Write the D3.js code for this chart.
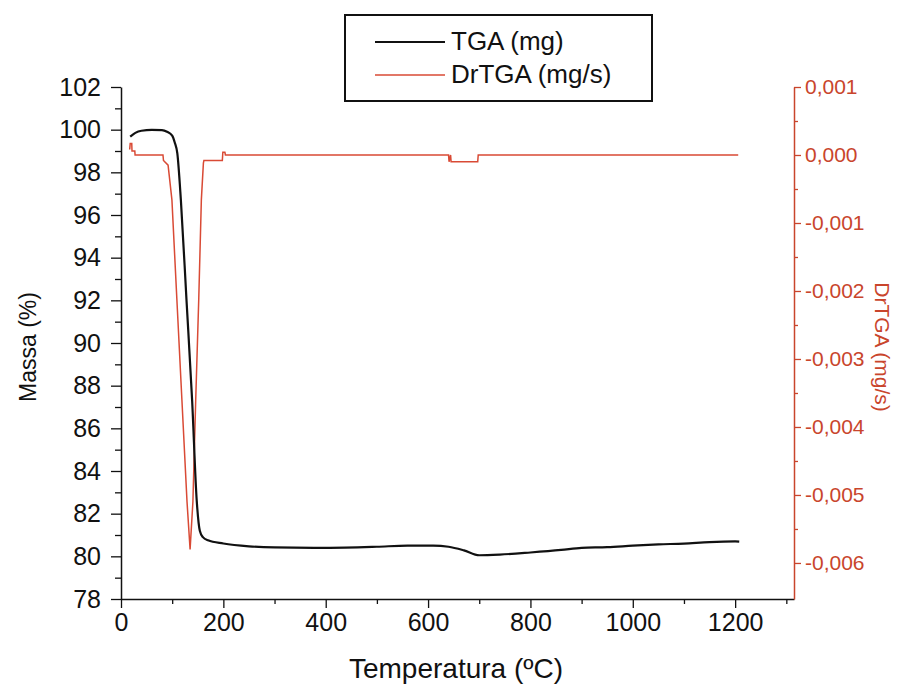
<!DOCTYPE html>
<html>
<head>
<meta charset="utf-8">
<script src="https://cdn.jsdelivr.net/npm/d3@7"></script>
<style>
  body { margin: 0; background: #fff; }
  svg text { font-family: "Liberation Sans", Arial, sans-serif; }
</style>
</head>
<body>
<div id="chart"></div>
<script>
// TGA curve: temperature (ºC) vs mass (%)
const tgaTemp = [18, 28, 40, 60, 80, 90, 100, 105, 110, 117, 128, 139, 148, 154, 160, 170, 200, 250, 300, 400, 500, 560, 610, 640, 670, 700, 740, 800, 860, 900, 950, 1000, 1050, 1100, 1150, 1200, 1208];
const tgaMass = [99.67, 99.85, 99.95, 99.99, 99.98, 99.9, 99.72, 99.4, 98.9, 96.7, 92.0, 87.3, 82.6, 81.2, 80.9, 80.75, 80.6, 80.47, 80.42, 80.4, 80.45, 80.5, 80.5, 80.45, 80.28, 80.05, 80.08, 80.18, 80.3, 80.4, 80.43, 80.5, 80.56, 80.6, 80.67, 80.7, 80.69];

// DrTGA curve: temperature (ºC) vs derivative (mg/s)
const dtgTemp = [17, 18, 21, 21.5, 27, 27.5, 82, 83, 92, 99.5, 109, 119, 129, 135, 140.5, 146, 152, 157, 161, 162, 198, 199, 203, 204, 640, 641, 644, 645, 697, 698, 1206];
const dtgValue = [0.00008, 0.00017, 0.00017, 0.00006, 0.00006, 0, 0, -0.00008, -0.00015, -0.00066, -0.0021, -0.0036, -0.0051, -0.0058, -0.0051, -0.0036, -0.0021, -0.00066, -0.00012, -0.00008, -0.00008, 0.00004, 0.00004, 0, 0, -0.0001, 0, -0.0001, -0.0001, 0, 0];

const xTicks = [0, 200, 400, 600, 800, 1000, 1200];
const xMinorTicks = [100, 300, 500, 700, 900, 1100, 1300];
const yLeftTicks = [78, 80, 82, 84, 86, 88, 90, 92, 94, 96, 98, 100, 102];
const yLeftMinor = [79, 81, 83, 85, 87, 89, 91, 93, 95, 97, 99, 101];
const yRightTicks = [0.001, 0, -0.001, -0.002, -0.003, -0.004, -0.005, -0.006];
const yRightMinor = [0.0005, -0.0005, -0.0015, -0.0025, -0.0035, -0.0045, -0.0055];

const series = [
  { name: 'TGA (mg)', color: '#111111', width: 2.2 },
  { name: 'DrTGA (mg/s)', color: '#d94a35', width: 1.5 },
];

const red = '#c9452c';
const width = 902;
const height = 688;
const plot = { left: 121, right: 794, top: 87, bottom: 599 };

const svg = d3.select('#chart').append('svg')
  .attr('width', width)
  .attr('height', height);

const x = d3.scaleLinear().domain([0, 1315]).range([plot.left, plot.right]);
const yL = d3.scaleLinear().domain([78, 102]).range([plot.bottom, plot.top]);
const yR = d3.scaleLinear().domain([-0.00653, 0.001]).range([plot.bottom, plot.top]);

function styleAxis(g, color) {
  g.select('.domain').attr('stroke', color).attr('stroke-width', 1.5);
  g.selectAll('.tick line').attr('stroke', color).attr('stroke-width', 1.3);
}

// bottom axis
const xAxisG = svg.append('g')
  .attr('transform', `translate(0, ${plot.bottom})`)
  .call(d3.axisBottom(x).tickValues(xTicks).tickSize(9).tickPadding(5).tickSizeOuter(0).tickFormat(d3.format('d')));
xAxisG.selectAll('text').attr('font-size', 25).attr('fill', '#111');
styleAxis(xAxisG, '#111');
const xMinorG = svg.append('g')
  .attr('transform', `translate(0, ${plot.bottom})`)
  .call(d3.axisBottom(x).tickValues(xMinorTicks).tickSize(5).tickFormat(''));
xMinorG.select('.domain').remove();
styleAxis(xMinorG, '#111');

// left axis
const yLAxisG = svg.append('g')
  .attr('transform', `translate(${plot.left}, 0)`)
  .call(d3.axisLeft(yL).tickValues(yLeftTicks).tickSize(10).tickPadding(10).tickSizeOuter(0));
yLAxisG.selectAll('text').attr('font-size', 25).attr('fill', '#111');
styleAxis(yLAxisG, '#111');
const yLMinorG = svg.append('g')
  .attr('transform', `translate(${plot.left}, 0)`)
  .call(d3.axisLeft(yL).tickValues(yLeftMinor).tickSize(6).tickFormat(''));
yLMinorG.select('.domain').remove();
styleAxis(yLMinorG, '#111');

// right axis
const fmt = d => d3.format('.3f')(d).replace('.', ',').replace('−', '-');
const yRAxisG = svg.append('g')
  .attr('transform', `translate(${plot.right}, 0)`)
  .call(d3.axisRight(yR).tickValues(yRightTicks).tickSize(7).tickPadding(4).tickSizeOuter(0).tickFormat(fmt));
yRAxisG.selectAll('text').attr('font-size', 21).attr('fill', red);
styleAxis(yRAxisG, red);
const yRMinorG = svg.append('g')
  .attr('transform', `translate(${plot.right}, 0)`)
  .call(d3.axisRight(yR).tickValues(yRightMinor).tickSize(4).tickFormat(''));
yRMinorG.select('.domain').remove();
styleAxis(yRMinorG, red);

// axis titles
svg.append('text')
  .attr('x', 456)
  .attr('y', 678)
  .attr('text-anchor', 'middle')
  .attr('font-size', 28)
  .attr('fill', '#111')
  .text('Temperatura (ºC)');

svg.append('text')
  .attr('transform', `translate(36, 347) rotate(-90)`)
  .attr('text-anchor', 'middle')
  .attr('font-size', 23)
  .attr('fill', '#111')
  .text('Massa (%)');

svg.append('text')
  .attr('transform', `translate(875, 347) rotate(90)`)
  .attr('text-anchor', 'middle')
  .attr('font-size', 21)
  .attr('fill', red)
  .text('DrTGA (mg/s)');

// curves
const tgaData = tgaTemp.map((t, i) => ({ t, v: tgaMass[i] }));
const dtgData = dtgTemp.map((t, i) => ({ t, v: dtgValue[i] }));

svg.append('path')
  .datum(dtgData)
  .attr('fill', 'none')
  .attr('stroke', series[1].color)
  .attr('stroke-width', series[1].width)
  .attr('d', d3.line().x(d => x(d.t)).y(d => yR(d.v)));

svg.append('path')
  .datum(tgaData)
  .attr('fill', 'none')
  .attr('stroke', series[0].color)
  .attr('stroke-width', series[0].width)
  .attr('d', d3.line().x(d => x(d.t)).y(d => yL(d.v)).curve(d3.curveMonotoneX));

// legend
const legend = svg.append('g').attr('transform', 'translate(345, 15)');
legend.append('rect')
  .attr('width', 307)
  .attr('height', 86)
  .attr('fill', '#fff')
  .attr('stroke', '#111')
  .attr('stroke-width', 2);

const item = legend.selectAll('g.item')
  .data(series)
  .enter()
  .append('g')
  .attr('class', 'item')
  .attr('transform', (d, i) => `translate(0, ${27 + i * 33})`);

item.append('line')
  .attr('x1', 30)
  .attr('x2', 100)
  .attr('stroke', d => d.color)
  .attr('stroke-width', d => d.width);

item.append('text')
  .attr('x', 106)
  .attr('y', 8)
  .attr('font-size', 26)
  .attr('fill', '#111')
  .text(d => d.name);
</script>
</body>
</html>
